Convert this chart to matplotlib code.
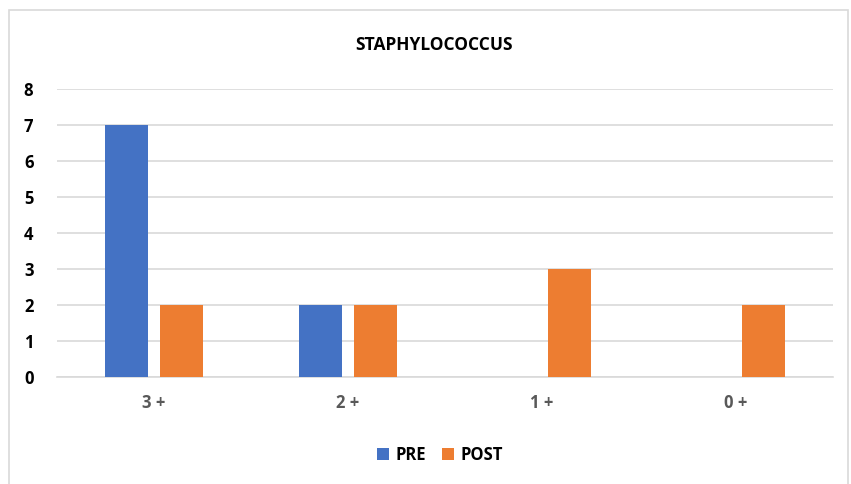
import numpy as np
import matplotlib
matplotlib.use('Agg')
import matplotlib.pyplot as plt
from matplotlib.patches import Rectangle

categories = ['3 +', '2 +', '1 +', '0 +']
pre_values = [7, 2, 0, 0]
post_values = [2, 2, 3, 2]
series_names = ['PRE', 'POST']

plt.rcParams['font.family'] = ['Open Sans', 'DejaVu Sans']

fig = plt.figure(figsize=(8.51, 4.84), dpi=100)
ax = fig.add_axes([57 / 851, 1 - 377 / 484, (833 - 57) / 851, (377 - 89) / 484])

x = np.arange(len(categories))
width = 0.222
offset = 0.142
ax.bar(x - offset, pre_values, width, color='#4472c4', label=series_names[0], zorder=3)
ax.bar(x + offset, post_values, width, color='#ed7d31', label=series_names[1], zorder=3)

ax.set_xlim(-0.5, len(categories) - 0.5)
ax.set_ylim(0, 8)
ax.set_yticks(range(0, 9))
ax.yaxis.grid(True, color='#d9d9d9', linewidth=1.2, zorder=0)
ax.set_axisbelow(True)
for s in ['top', 'right', 'left']:
    ax.spines[s].set_visible(False)
ax.spines['bottom'].set_color('#d9d9d9')
ax.spines['bottom'].set_linewidth(1.2)
ax.tick_params(length=0)
ax.tick_params(axis='y', pad=17)
ax.tick_params(axis='x', pad=12)
ax.set_xticks(x)
ax.set_xticklabels(categories, fontsize=12, fontweight='bold', color='#595959')
for lbl in ax.get_yticklabels():
    lbl.set_fontsize(12)
    lbl.set_fontweight('bold')
    lbl.set_color('black')

fig.text(434 / 851, 1 - 45 / 484, 'STAPHYLOCOCCUS', ha='center', va='center',
         fontsize=12.5, fontweight='bold')

leg = fig.legend(loc='center', bbox_to_anchor=(440 / 851, 1 - 455 / 484), ncol=2,
                 frameon=False, prop={'weight': 'bold', 'size': 12},
                 handlelength=0.7, handleheight=0.7, handletextpad=0.4, columnspacing=1.0)

fig.patches.append(Rectangle((9 / 851, -0.01), (848 - 9) / 851, 1 - 10 / 484 + 0.01,
                             transform=fig.transFigure, fill=False,
                             edgecolor='#d9d9d9', linewidth=1.2))

fig.savefig('out.png', dpi=100)
